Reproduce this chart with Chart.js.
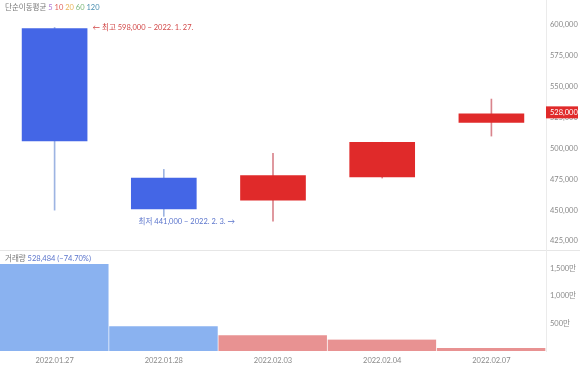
<!DOCTYPE html>
<html>
<head>
<meta charset="utf-8">
<script src="https://cdn.jsdelivr.net/npm/chart.js@4"></script>
<style>
  body { margin: 0; background: #fff; }
  #wrap { position: relative; width: 580px; height: 367px; }
  canvas { position: absolute; left: 0; }
</style>
</head>
<body>
<div id="wrap">
  <canvas id="priceChart" width="580" height="250" style="top:0"></canvas>
  <canvas id="volumeChart" width="580" height="117" style="top:250px"></canvas>
</div>
<script>
const dates = ['2022.01.27', '2022.01.28', '2022.02.03', '2022.02.04', '2022.02.07'];
const opens = [597000, 476000, 458000, 477000, 521000];
const closes = [506000, 451000, 478000, 505000, 528000];
const highs = [598000, 483000, 496000, 505000, 540000];
const lows = [450000, 445000, 441000, 476000, 510000];
const volumes = [15800000, 4500000, 2850000, 2089000, 528484];
const priceTicks = [425000, 450000, 475000, 500000, 525000, 550000, 575000, 600000];
const volumeTicks = [5000000, 10000000, 15000000];
const maLabels = ['5', '10', '20', '60', '120'];

const FONT = 'Lato, "Noto Sans CJK KR", sans-serif';
const isUp = closes.map((c, i) => c >= opens[i]);

const bodyColors = isUp.map(u => u ? '#e02a2a' : '#4466e6');
const wickColors = isUp.map(u => u ? '#d9848c' : '#9db4e2');
const volColors = isUp.map(u => u ? '#e89292' : '#8ab2f0');

function fixAxis(scale) {
    scale.paddingTop = 0;
    scale.paddingBottom = 0;
    scale.paddingLeft = 0;
    scale.paddingRight = 0;
}

// price pane overlays: moving average legend, high/low notes, current price tag
const pricePlugin = {
    id: 'priceExtras',
    afterDraw(chart) {
        const ctx = chart.ctx;
        const x = chart.scales.x;
        const y = chart.scales.y;
        ctx.save();
        ctx.textBaseline = 'middle';

        // legend
        ctx.font = '7.5px ' + FONT;
        let px = 5;
        ctx.fillStyle = '#777';
        ctx.fillText('단순이동평균', px, 8);
        px += ctx.measureText('단순이동평균 ').width;
        const maColors = ['#b07ad6', '#e0605a', '#e8b45c', '#7cb87a', '#4a8fb0'];
        maLabels.forEach((t, i) => {
            ctx.fillStyle = maColors[i];
            ctx.fillText(t, px, 8);
            px += ctx.measureText(t + ' ').width;
        });

        // highest / lowest notes
        const hiIdx = highs.indexOf(Math.max(...highs));
        const loIdx = lows.indexOf(Math.min(...lows));
        ctx.font = '7.5px ' + FONT;
        ctx.fillStyle = '#d24848';
        ctx.textAlign = 'left';
        ctx.fillText('← 최고 ' + highs[hiIdx].toLocaleString('en-US') + ' − 2022. 1. 27.',
            x.getPixelForValue(hiIdx) + 38, y.getPixelForValue(highs[hiIdx]));
        ctx.fillStyle = '#5a74cc';
        ctx.textAlign = 'right';
        ctx.fillText('최저 ' + lows[loIdx].toLocaleString('en-US') + ' − 2022. 2. 3. →',
            x.getPixelForValue(loIdx) - 38, y.getPixelForValue(lows[loIdx]));

        // current price tag
        const last = closes[closes.length - 1];
        const ty = y.getPixelForValue(last) - 1.5;
        ctx.fillStyle = '#e02a2a';
        ctx.fillRect(chart.chartArea.right, ty - 6, 32, 12);
        ctx.fillStyle = '#fff';
        ctx.textAlign = 'left';
        ctx.font = '7.5px ' + FONT;
        ctx.fillText(last.toLocaleString('en-US'), chart.chartArea.right + 4, ty + 0.5);
        ctx.restore();
    }
};

new Chart(document.getElementById('priceChart'), {
    type: 'bar',
    data: {
        labels: dates,
        datasets: [
            {
                label: 'body',
                data: opens.map((o, i) => [o, closes[i]]),
                backgroundColor: bodyColors,
                barThickness: 65,
                grouped: false,
                order: 0
            },
            {
                label: 'wick',
                data: lows.map((l, i) => [l, highs[i]]),
                backgroundColor: wickColors,
                barThickness: 1,
                grouped: false,
                order: 1
            }
        ]
    },
    options: {
        responsive: false,
        animation: false,
        layout: { padding: 0 },
        plugins: { legend: { display: false }, tooltip: { enabled: false } },
        scales: {
            x: { display: false, offset: true },
            y: {
                position: 'right',
                min: 417700,
                max: 620250,
                afterBuildTicks: s => { s.ticks = priceTicks.map(v => ({ value: v })); },
                afterFit: s => { s.width = 34; fixAxis(s); },
                grid: { drawOnChartArea: false, drawTicks: false },
                border: { color: '#ebebeb' },
                ticks: {
                    padding: 4,
                    color: '#8a8a8a',
                    font: { family: FONT, size: 7.5 },
                    callback: v => v.toLocaleString('en-US')
                }
            }
        }
    },
    plugins: [pricePlugin]
});

const volumePlugin = {
    id: 'volumeExtras',
    beforeDraw(chart) {
        const ctx = chart.ctx;
        ctx.save();
        ctx.strokeStyle = '#e6e6e6';
        ctx.beginPath();
        ctx.moveTo(0, 0.5);
        ctx.lineTo(chart.width, 0.5);
        ctx.stroke();
        ctx.restore();
    },
    afterDraw(chart) {
        const ctx = chart.ctx;
        const last = volumes[volumes.length - 1];
        const prev = volumes[volumes.length - 2];
        const pct = ((last - prev) / prev * 100).toFixed(2);
        ctx.save();
        ctx.textBaseline = 'middle';
        ctx.font = '7.5px ' + FONT;
        ctx.fillStyle = '#777';
        ctx.fillText('거래량', 5, 8.5);
        const w = ctx.measureText('거래량 ').width;
        ctx.fillStyle = '#5a74cc';
        ctx.fillText(last.toLocaleString('en-US') + ' (' + pct.replace('-', '−') + '%)', 5 + w, 8.5);
        ctx.restore();
    }
};

new Chart(document.getElementById('volumeChart'), {
    type: 'bar',
    data: {
        labels: dates,
        datasets: [{
            label: 'volume',
            data: volumes,
            backgroundColor: volColors,
            borderColor: '#ffffff',
            borderWidth: { top: 0, left: 0, bottom: 0, right: 1 },
            borderSkipped: false,
            barPercentage: 1,
            categoryPercentage: 1
        }]
    },
    options: {
        responsive: false,
        animation: false,
        layout: { padding: 0 },
        plugins: { legend: { display: false }, tooltip: { enabled: false } },
        scales: {
            x: {
                offset: true,
                afterFit: s => { s.height = 16; fixAxis(s); },
                grid: { display: false, drawTicks: false },
                border: { display: false },
                ticks: {
                    padding: 5,
                    color: '#8a8a8a',
                    maxRotation: 0,
                    font: { family: FONT, size: 7.5 }
                }
            },
            y: {
                position: 'right',
                min: 0,
                max: 18360000,
                afterBuildTicks: s => { s.ticks = volumeTicks.map(v => ({ value: v })); },
                afterFit: s => { s.width = 34; fixAxis(s); },
                grid: { drawOnChartArea: false, drawTicks: false },
                border: { color: '#ebebeb' },
                ticks: {
                    padding: 4,
                    color: '#8a8a8a',
                    font: { family: FONT, size: 7.5 },
                    callback: v => (v / 10000).toLocaleString('en-US') + '만'
                }
            }
        }
    },
    plugins: [volumePlugin]
});
</script>
</body>
</html>
